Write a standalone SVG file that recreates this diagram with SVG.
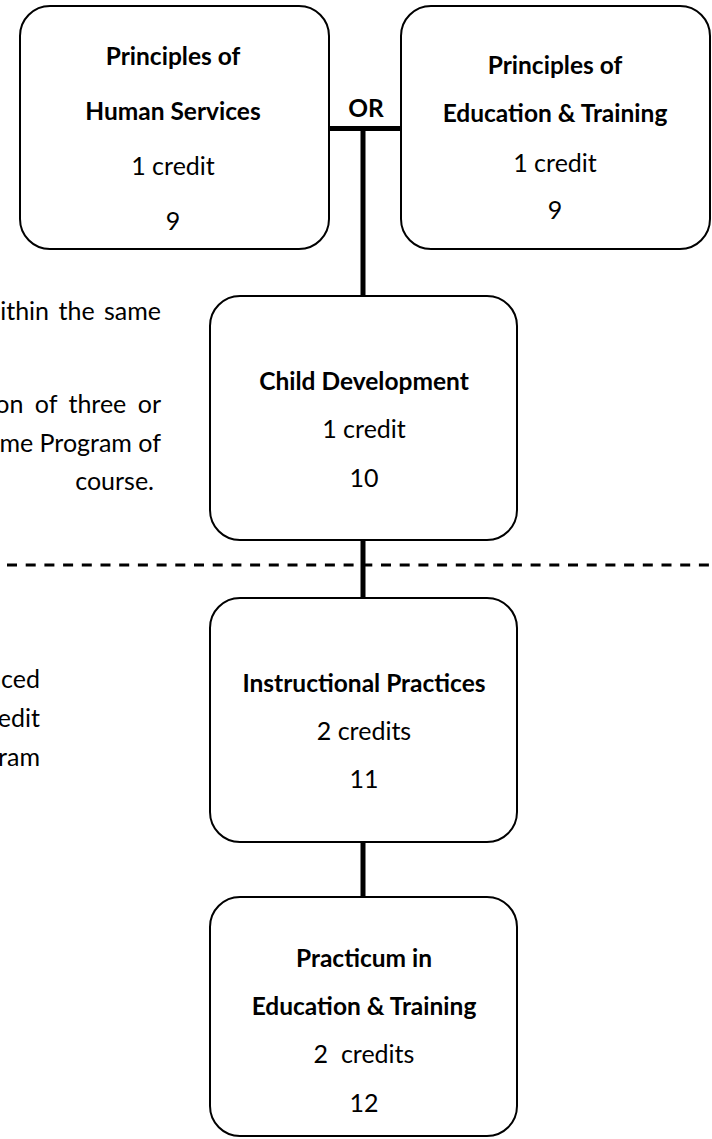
<svg xmlns="http://www.w3.org/2000/svg" width="712" height="1139" viewBox="0 0 712 1139">
<style>
.box{fill:#fff;stroke:#000;stroke-width:2}
.t{font-family:Lato,"Open Sans",sans-serif;font-size:25px;fill:#000;text-anchor:middle}
.b{font-weight:bold;font-size:24.5px}
.side{font-family:Lato,"Open Sans",sans-serif;font-size:25px;fill:#000;text-anchor:end}
.conn{stroke:#000;stroke-width:5;fill:none}
.dash{stroke:#000;stroke-width:3;stroke-dasharray:10 8.7;fill:none}
</style>
<rect width="712" height="1139" fill="#fff"/>
<g id="side-notes">
<text class="side" x="161" y="320" word-spacing="3">ithin the same</text>
<text class="side" x="161" y="413" word-spacing="5">on of three or</text>
<text class="side" x="161" y="452">me Program of</text>
<text class="side" x="154" y="490">course.</text>
<text class="side" x="40" y="688">nced</text>
<text class="side" x="40" y="727">edit</text>
<text class="side" x="40" y="766">ram</text>
</g>
<g id="connectors">
<line class="conn" x1="329" y1="128.5" x2="402" y2="128.5"/>
<line class="conn" x1="363" y1="128.5" x2="363" y2="296"/>
<line class="conn" x1="363" y1="540" x2="363" y2="598"/>
<line class="conn" x1="363" y1="842" x2="363" y2="897"/>
<line class="dash" x1="7" y1="565" x2="712" y2="565"/>
<text class="t b" x="366" y="117">OR</text>
</g>
<g id="human-services">
<rect class="box" x="20" y="6" width="309" height="243" rx="30"/>
<text class="t b" x="173" y="65">Principles of</text>
<text class="t b" x="173" y="120">Human Services</text>
<text class="t" x="173" y="175">1 credit</text>
<text class="t" x="173" y="230">9</text>
</g>
<g id="education-training">
<rect class="box" x="401" y="6" width="309" height="243" rx="30"/>
<text class="t b" x="555" y="74">Principles of</text>
<text class="t b" x="555" y="122">Education &amp; Training</text>
<text class="t" x="555" y="172">1 credit</text>
<text class="t" x="555" y="219">9</text>
</g>
<g id="child-development">
<rect class="box" x="210" y="296" width="307" height="244" rx="30"/>
<text class="t b" x="364" y="390">Child Development</text>
<text class="t" x="364" y="438">1 credit</text>
<text class="t" x="364" y="487">10</text>
</g>
<g id="instructional-practices">
<rect class="box" x="210" y="598" width="307" height="244" rx="30"/>
<text class="t b" x="364" y="692">Instructional Practices</text>
<text class="t" x="364" y="740">2 credits</text>
<text class="t" x="364" y="788">11</text>
</g>
<g id="practicum">
<rect class="box" x="210" y="897" width="307" height="239" rx="30"/>
<text class="t b" x="364" y="967">Practicum in</text>
<text class="t b" x="364" y="1015">Education &amp; Training</text>
<text class="t" x="364" y="1063" xml:space="preserve">2  credits</text>
<text class="t" x="364" y="1112">12</text>
</g>
</svg>
